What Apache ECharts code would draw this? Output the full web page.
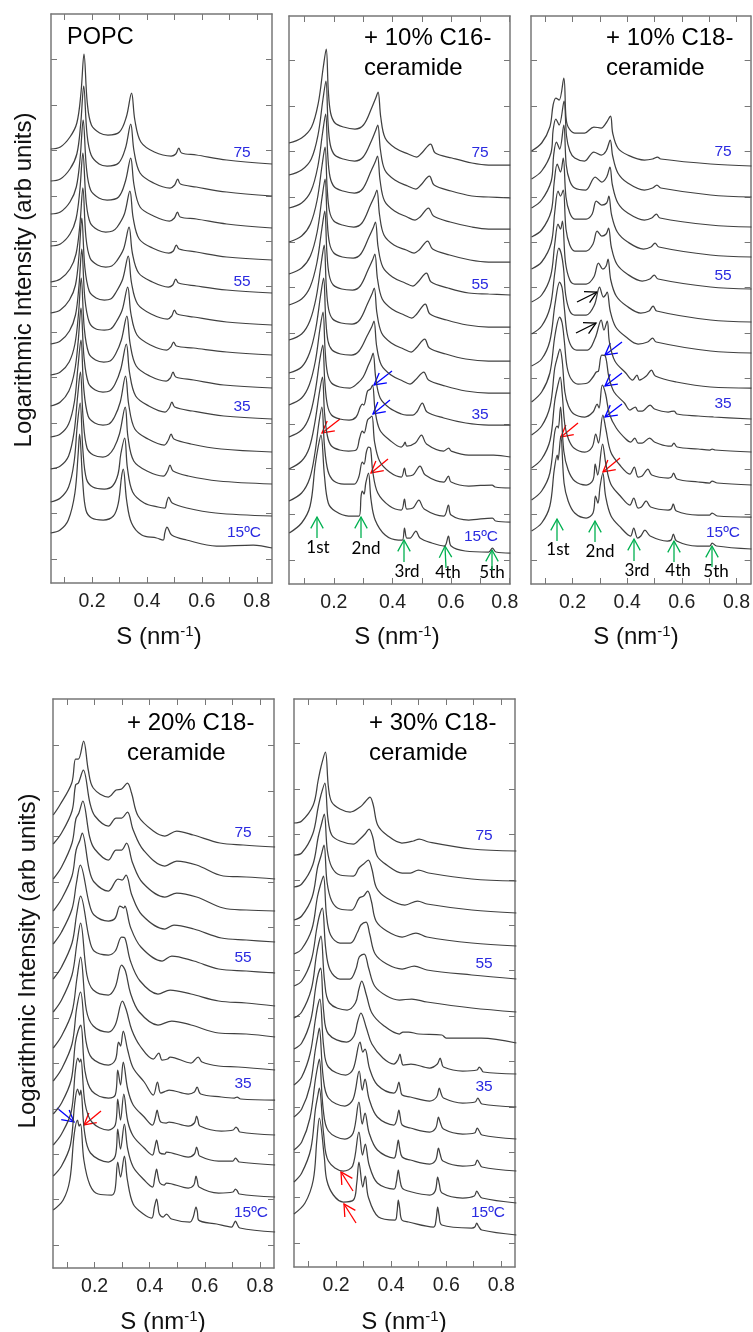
<!DOCTYPE html>
<html>
<head>
<meta charset="utf-8">
<script src="https://cdn.jsdelivr.net/npm/echarts@6/dist/echarts.min.js"></script>
<style>
  html, body { margin: 0; background: #fff; }
  #main { width: 753px; height: 1332px; }
</style>
</head>
<body>
<div id="main"></div>
<script>
// tick values shared by every panel
const xMinorTicks = [0.1, 0.2, 0.3, 0.4, 0.5, 0.6, 0.7, 0.8]
const xLabels = [0.2, 0.4, 0.6, 0.8]
const yTicks = [0, 45.4, 90.8, 136.2, 181.6, 227, 272.4, 317.8, 363.2, 408.6, 454, 499.4]

// temperatures of the stacked curves, top to bottom
const temps = [75, 70, 65, 60, 55, 50, 45, 40, 35, 30, 25, 20, 15]

// vertical stacking offset of each curve, one list per panel
const popcOffset = [395, 363, 331, 299, 266, 234, 204, 171, 140, 107, 75, 43, 11]
const c16Offset = [395, 362, 331, 298, 265, 233, 199, 167, 135, 103, 72, 38, 7]
const c18Offset = [394, 363, 333, 303, 271, 238, 207, 172, 141, 108, 75, 43, 11]
const c18x20Offset = [398, 366, 334, 303, 272, 239, 208, 175, 145, 110, 80, 48, 13]
const c18x30Offset = [392, 362, 330, 297, 264, 231, 200, 169, 136, 104, 72, 40, 8]

// POPC: [S, log intensity above the curve's own high-S end]
const popc75 = [[.05,15],[.085,17],[.12,27],[.145,41],[.16,71],[.171,110],[.183,61],[.198,39],[.228,31],[.258,29],[.30,32],[.325,47],[.344,71],[.356,44],[.378,22],[.427,12],[.488,8],[.505,10],[.516,16],[.526,11],[.58,9],[.69,4],[.855,0]]
const popc70 = [[.05,15],[.085,17],[.12,27],[.145,42],[.159,72],[.170,110],[.182,62],[.197,41],[.226,32],[.255,30],[.297,33],[.322,48],[.341,72],[.353,45],[.375,23],[.424,13],[.484,8],[.501,11],[.512,17],[.522,12],[.58,9],[.69,4],[.855,0]]
const popc65 = [[.05,14],[.085,16],[.12,26],[.143,41],[.157,70],[.168,108],[.18,60],[.195,38],[.225,30],[.255,28],[.297,31],[.322,47],[.341,70],[.353,43],[.375,21],[.424,12],[.482,7],[.5,10],[.511,16],[.521,11],[.58,9],[.69,4],[.855,0]]
const popc60 = [[.05,14],[.085,16],[.12,26],[.142,41],[.156,70],[.167,107],[.179,58],[.194,37],[.222,30],[.25,28],[.275,29],[.292,33],[.318,46],[.338,69],[.35,42],[.372,21],[.42,12],[.48,7],[.496,9],[.507,15],[.517,11],[.58,8],[.69,3],[.855,0]]
const popc55 = [[.05,11],[.085,14],[.12,24],[.142,39],[.156,68],[.167,105],[.178,56],[.193,35],[.22,28],[.25,26],[.272,27],[.29,32],[.315,44],[.335,66],[.347,40],[.37,20],[.42,11],[.478,6],[.494,8],[.505,14],[.515,10],[.58,7],[.69,3],[.855,0]]
const popc50 = [[.05,12],[.085,15],[.118,25],[.14,40],[.153,70],[.163,107],[.174,58],[.19,34],[.215,27],[.245,25],[.268,26],[.288,33],[.312,46],[.332,69],[.344,42],[.366,21],[.415,11],[.475,6],[.49,9],[.5,15],[.51,11],[.57,8],[.69,3],[.855,0]]
const popc45 = [[.05,11],[.085,14],[.118,24],[.14,40],[.153,70],[.163,106],[.174,57],[.19,33],[.215,26],[.245,25],[.268,26],[.288,33],[.31,45],[.33,68],[.342,41],[.364,20],[.413,10],[.472,5],[.487,8],[.497,13],[.507,9],[.57,7],[.69,3],[.855,0]]
const popc40 = [[.05,13],[.085,16],[.117,26],[.138,44],[.151,74],[.161,110],[.172,60],[.188,35],[.213,28],[.243,26],[.266,27],[.286,34],[.307,48],[.327,72],[.339,44],[.361,22],[.41,12],[.47,7],[.485,10],[.495,16],[.505,11],[.57,8],[.68,3],[.855,0]]
const popc35 = [[.05,13],[.085,17],[.116,28],[.137,48],[.15,78],[.16,111],[.171,62],[.187,36],[.212,29],[.24,27],[.264,28],[.284,35],[.305,50],[.325,75],[.337,46],[.359,23],[.407,13],[.466,7],[.481,11],[.491,17],[.501,12],[.565,8],[.68,3],[.855,0]]
const popc30 = [[.05,15],[.085,18],[.115,28],[.136,50],[.149,85],[.16,112],[.17,64],[.186,36],[.21,29],[.24,27],[.262,28],[.282,35],[.303,50],[.322,76],[.334,47],[.356,23],[.404,13],[.463,7],[.478,12],[.488,18],[.498,13],[.56,8],[.67,3],[.855,0]]
const popc25 = [[.05,15],[.085,18],[.115,28],[.135,52],[.148,88],[.158,112],[.168,65],[.182,36],[.205,29],[.24,27],[.26,29],[.28,36],[.30,50],[.321,77],[.331,47],[.352,23],[.4,13],[.46,8],[.475,13],[.484,19],[.495,13],[.55,8],[.66,3],[.855,0]]
const popc20 = [[.05,14],[.085,18],[.115,29],[.135,54],[.147,92],[.157,113],[.167,66],[.18,37],[.203,29],[.245,27],[.275,30],[.295,42],[.305,62],[.319,78],[.329,48],[.348,24],[.39,13],[.44,9],[.465,8],[.472,14],[.479,19],[.492,13],[.545,8],[.65,3],[.855,0]]
const popc15 = [[.05,15],[.084,18],[.114,28],[.138,55],[.15,95],[.155,114],[.166,68],[.178,38],[.199,30],[.241,28],[.278,32],[.296,45],[.308,72],[.314,79],[.326,48],[.344,25],[.381,13],[.435,10],[.459,8],[.465,15],[.473,21],[.49,13],[.544,8],[.653,2],[.787,3],[.855,0]]

// + 10% C16-ceramide
const c1675 = [[.047,22],[.09,27],[.124,38],[.147,62],[.164,98],[.174,116],[.181,75],[.189,52],[.204,42],[.233,38],[.272,36],[.301,40],[.329,57],[.343,67],[.351,73],[.36,48],[.375,27],[.409,17],[.454,11],[.483,8],[.50,12],[.53,21],[.546,12],[.603,7],[.671,2],[.728,0],[.802,0]]
const c1670 = [[.047,23],[.09,28],[.123,39],[.146,63],[.163,99],[.173,117],[.18,76],[.188,53],[.203,43],[.232,39],[.271,37],[.3,41],[.328,57],[.342,67],[.35,73],[.359,48],[.374,28],[.408,18],[.452,12],[.48,9],[.497,13],[.526,22],[.542,13],[.6,7],[.671,2],[.728,1],[.802,0]]
const c1665 = [[.047,21],[.09,26],[.122,38],[.145,62],[.162,97],[.172,115],[.179,75],[.187,52],[.202,42],[.231,38],[.27,36],[.298,40],[.327,58],[.341,67],[.349,73],[.358,48],[.373,28],[.407,18],[.45,12],[.477,9],[.494,12],[.523,21],[.54,13],[.597,7],[.671,2],[.728,0],[.802,0]]
const c1660 = [[.047,20],[.09,26],[.12,38],[.143,62],[.16,97],[.17,115],[.177,75],[.185,51],[.2,41],[.229,37],[.268,35],[.296,39],[.325,57],[.339,66],[.347,72],[.356,47],[.371,27],[.405,17],[.447,12],[.474,9],[.491,12],[.52,21],[.537,13],[.595,7],[.665,2],[.728,0],[.802,0]]
const c1655 = [[.047,21],[.09,27],[.12,39],[.143,63],[.16,98],[.17,116],[.177,76],[.185,52],[.2,42],[.229,38],[.266,37],[.292,41],[.32,58],[.334,67],[.342,73],[.351,48],[.367,28],[.4,18],[.443,12],[.47,9],[.487,13],[.516,22],[.532,13],[.59,7],[.66,2],[.728,1],[.802,0]]
const c1650 = [[.047,22],[.09,28],[.119,40],[.142,64],[.159,98],[.169,116],[.176,76],[.184,52],[.198,42],[.227,38],[.264,37],[.29,41],[.318,58],[.332,67],[.34,73],[.349,48],[.365,28],[.398,18],[.44,12],[.466,9],[.483,13],[.512,23],[.528,13],[.585,7],[.655,2],[.728,0],[.802,0]]
const c1645 = [[.047,21],[.09,27],[.118,40],[.14,64],[.157,98],[.167,116],[.174,76],[.182,52],[.196,42],[.225,38],[.262,37],[.288,41],[.316,58],[.33,67],[.338,73],[.347,48],[.363,28],[.396,18],[.438,12],[.464,9],[.481,13],[.51,22],[.526,13],[.582,7],[.65,2],[.728,0],[.802,0]]
const c1640 = [[.047,20],[.09,26],[.117,40],[.138,64],[.155,98],[.165,115],[.172,76],[.18,52],[.194,43],[.223,39],[.26,38],[.286,42],[.315,58],[.329,66],[.337,72],[.346,47],[.362,28],[.395,18],[.435,12],[.46,9],[.478,13],[.507,21],[.523,13],[.58,7],[.65,2],[.728,0],[.802,0]]
const c1635 = [[.047,20],[.09,27],[.116,40],[.137,64],[.153,97],[.163,113],[.17,76],[.178,52],[.192,42],[.22,38],[.255,37],[.282,42],[.3,48],[.318,60],[.327,66],[.334,72],[.343,47],[.358,27],[.39,17],[.43,11],[.449,10],[.47,10],[.483,13],[.502,22],[.518,13],[.575,7],[.65,2],[.728,0],[.802,0]]
const c1630 = [[.047,20],[.09,27],[.116,40],[.136,65],[.152,97],[.162,112],[.169,76],[.178,52],[.192,42],[.22,38],[.252,37],[.276,40],[.29,50],[.297,53],[.302,52],[.315,66],[.325,68],[.332,72],[.341,46],[.357,27],[.39,17],[.43,10],[.438,12],[.443,15],[.449,11],[.478,14],[.499,22],[.516,13],[.575,6],[.592,9],[.6,6],[.66,2],[.745,2],[.802,0]]
const c1625 = [[.047,19],[.09,27],[.116,40],[.135,65],[.151,96],[.161,111],[.168,76],[.178,52],[.192,42],[.22,38],[.25,37],[.276,38],[.288,50],[.297,57],[.303,55],[.315,68],[.322,70],[.33,72],[.339,46],[.356,27],[.39,16],[.43,11],[.441,20],[.449,12],[.47,13],[.494,22],[.512,13],[.575,6],[.591,12],[.6,6],[.66,2],[.74,3],[.75,1],[.802,0]]
const c1620 = [[.047,21],[.09,29],[.118,44],[.136,70],[.149,99],[.159,115],[.168,76],[.18,51],[.2,41],[.235,38],[.27,38],[.285,45],[.297,60],[.303,58],[.311,70],[.318,75],[.325,74],[.333,50],[.35,29],[.39,16],[.43,12],[.441,23],[.449,13],[.47,14],[.49,22],[.508,13],[.575,6],[.591,17],[.6,7],[.66,2],[.741,4],[.752,1],[.802,0]]
const c1615 = [[.048,20],[.09,30],[.119,47],[.136,87],[.147,107],[.156,118],[.168,77],[.181,50],[.204,42],[.25,37],[.286,37],[.293,57],[.297,62],[.303,59],[.309,70],[.318,80],[.327,53],[.341,33],[.375,18],[.42,13],[.434,13],[.441,25],[.449,15],[.46,15],[.48,22],[.494,15],[.534,10],[.577,7],[.591,17],[.6,7],[.648,2],[.728,1],[.741,5],[.753,1],[.802,0]]

// + 10% C18-ceramide
const c1875 = [[.05,15],[.087,23],[.117,39],[.129,61],[.139,68],[.151,66],[.168,88],[.176,49],[.184,39],[.208,33],[.244,33],[.278,39],[.305,38],[.323,43],[.339,50],[.347,33],[.366,18],[.402,11],[.463,6],[.493,7],[.511,9],[.523,7],[.705,2],[.855,0]]
const c1870 = [[.05,18],[.087,26],[.121,44],[.129,67],[.139,78],[.151,72],[.169,96],[.178,61],[.19,46],[.208,39],[.244,36],[.278,45],[.305,42],[.323,46],[.338,57],[.347,41],[.366,24],[.402,14],[.463,7],[.493,9],[.509,12],[.523,9],[.705,2],[.855,0]]
const c1865 = [[.05,19],[.087,27],[.122,46],[.131,72],[.141,85],[.153,78],[.168,102],[.177,62],[.19,46],[.208,39],[.248,37],[.283,50],[.307,45],[.325,50],[.337,60],[.346,42],[.366,24],[.402,14],[.463,7],[.49,9],[.507,13],[.52,9],[.705,2],[.855,0]]
const c1860 = [[.05,20],[.087,27],[.122,46],[.133,75],[.144,93],[.156,85],[.166,99],[.176,60],[.19,44],[.208,38],[.25,38],[.272,43],[.287,56],[.307,52],[.325,54],[.333,61],[.343,42],[.364,25],[.402,15],[.46,8],[.487,10],[.502,14],[.516,10],[.705,2],[.855,0]]
const c1855 = [[.05,20],[.087,27],[.122,46],[.135,77],[.147,98],[.156,93],[.166,99],[.176,60],[.19,44],[.208,38],[.25,38],[.275,45],[.29,58],[.307,53],[.323,55],[.332,61],[.342,42],[.362,25],[.4,15],[.455,8],[.483,10],[.499,14],[.513,10],[.705,2],[.855,0]]
const c1850 = [[.05,20],[.087,27],[.12,46],[.135,78],[.147,98],[.156,93],[.163,101],[.174,60],[.19,42],[.208,38],[.25,38],[.278,45],[.295,59],[.311,53],[.323,56],[.33,63],[.34,42],[.36,26],[.398,16],[.45,9],[.48,11],[.495,16],[.508,11],[.705,2],[.855,0]]
const c1845 = [[.05,19],[.087,27],[.118,46],[.136,82],[.15,105],[.159,99],[.167,85],[.175,58],[.19,42],[.208,38],[.25,38],[.28,48],[.299,66],[.313,56],[.321,58],[.327,61],[.338,42],[.358,26],[.396,16],[.44,9],[.475,11],[.493,15],[.506,11],[.705,2],[.855,0]]
const c1840 = [[.05,22],[.087,29],[.117,47],[.136,84],[.153,106],[.162,100],[.17,80],[.18,55],[.195,42],[.215,38],[.255,38],[.283,50],[.305,68],[.315,58],[.327,67],[.335,46],[.355,27],[.395,15],[.42,8],[.436,13],[.445,8],[.47,12],[.489,18],[.503,12],[.58,6],[.705,1],[.855,0]]
const c1835 = [[.05,17],[.087,27],[.117,46],[.136,84],[.153,102],[.162,96],[.17,78],[.18,52],[.195,40],[.22,35],[.255,36],[.275,42],[.287,47],[.295,48],[.307,64],[.32,63],[.333,42],[.352,27],[.39,16],[.41,9],[.43,12],[.44,8],[.455,8],[.484,14],[.5,10],[.55,7],[.572,8],[.582,5],[.66,3],[.717,2],[.855,0]]
const c1830 = [[.05,17],[.087,26],[.118,46],[.135,84],[.145,95],[.154,103],[.162,92],[.172,60],[.185,46],[.205,38],[.245,35],[.275,40],[.29,48],[.297,44],[.309,67],[.321,58],[.335,38],[.36,24],[.395,13],[.413,10],[.428,14],[.44,9],[.455,9],[.482,14],[.5,10],[.55,6],[.562,6],[.571,9],[.583,5],[.66,3],[.703,2],[.711,3],[.722,2],[.855,0]]
const c1825 = [[.05,17],[.087,26],[.118,45],[.135,84],[.145,98],[.155,108],[.162,92],[.172,60],[.185,46],[.205,37],[.245,33],[.272,38],[.285,51],[.295,42],[.311,70],[.322,56],[.34,33],[.37,21],[.41,11],[.426,18],[.44,8],[.455,9],[.476,16],[.49,10],[.55,7],[.562,8],[.57,12],[.582,6],[.66,3],[.702,2],[.711,4],[.73,2],[.855,0]]
const c1820 = [[.05,17],[.087,26],[.117,44],[.135,85],[.144,91],[.148,89],[.156,110],[.168,66],[.184,47],[.208,36],[.25,32],[.275,37],[.283,53],[.292,42],[.31,73],[.322,53],[.34,33],[.375,21],[.41,12],[.424,19],[.44,9],[.452,10],[.47,16],[.486,10],[.55,7],[.561,8],[.569,13],[.58,6],[.66,2],[.702,2],[.711,4],[.73,1],[.855,0]]
const c1815 = [[.05,18],[.087,26],[.117,43],[.133,79],[.144,94],[.147,89],[.157,113],[.169,66],[.184,48],[.208,36],[.25,31],[.275,36],[.284,53],[.293,46],[.301,63],[.311,76],[.321,53],[.341,33],[.378,21],[.412,13],[.424,21],[.438,11],[.45,13],[.465,19],[.484,13],[.547,8],[.561,9],[.569,15],[.581,8],[.657,3],[.702,3],[.711,6],[.727,3],[.855,0]]

// + 20% C18-ceramide
const c2075 = [[.05,32],[.074,42],[.117,64],[.131,88],[.141,88],[.16,106],[.177,77],[.195,59],[.25,50],[.278,57],[.298,58],[.319,64],[.334,54],[.358,31],[.413,16],[.455,11],[.498,16],[.558,12],[.655,4],[.739,2],[.855,0]]
const c2070 = [[.05,35],[.08,46],[.118,68],[.131,94],[.141,96],[.159,109],[.183,76],[.201,63],[.25,53],[.278,61],[.298,61],[.319,67],[.34,49],[.377,29],[.455,13],[.498,18],[.57,14],[.667,3],[.75,2],[.855,0]]
const c2065 = [[.05,32],[.08,44],[.118,68],[.132,92],[.143,98],[.157,110],[.182,74],[.2,62],[.25,51],[.278,61],[.298,61],[.316,68],[.338,48],[.375,28],[.455,14],[.498,18],[.57,14],[.667,3],[.75,1],[.855,0]]
const c2060 = [[.05,31],[.08,43],[.118,66],[.133,92],[.147,102],[.155,109],[.18,73],[.198,60],[.25,51],[.285,63],[.3,62],[.314,67],[.335,47],[.372,27],[.455,13],[.488,17],[.56,13],[.66,4],[.75,2],[.855,0]]
const c2055 = [[.05,29],[.08,41],[.118,64],[.134,90],[.148,108],[.18,70],[.198,58],[.25,52],[.275,55],[.292,67],[.306,65],[.31,67],[.33,46],[.368,26],[.445,12],[.48,17],[.56,12],[.65,4],[.75,2],[.855,0]]
const c2050 = [[.05,27],[.08,39],[.118,63],[.135,92],[.149,110],[.18,68],[.198,55],[.25,51],[.275,55],[.298,69],[.31,68],[.33,45],[.365,25],[.43,12],[.474,16],[.55,12],[.65,5],[.75,3],[.855,0]]
const c2045 = [[.05,25],[.08,37],[.118,62],[.136,94],[.149,114],[.172,62],[.195,47],[.25,42],[.275,50],[.298,72],[.312,66],[.33,44],[.362,25],[.43,12],[.48,16],[.55,12],[.65,4],[.75,3],[.855,0]]
const c2040 = [[.05,22],[.08,34],[.118,58],[.136,92],[.149,113],[.17,60],[.195,44],[.25,38],[.275,45],[.301,69],[.315,60],[.335,40],[.365,24],[.413,11],[.433,17],[.445,10],[.465,11],[.474,13],[.55,7],[.576,13],[.59,8],[.65,4],[.721,3],[.855,0]]
const c2035 = [[.05,19],[.08,31],[.118,56],[.135,92],[.149,108],[.168,60],[.19,42],[.25,35],[.275,40],[.284,55],[.287,58],[.294,54],[.304,69],[.32,50],[.34,32],[.38,18],[.413,5],[.428,18],[.44,7],[.46,9],[.47,10],[.54,6],[.562,8],[.572,13],[.585,6],[.66,3],[.707,2],[.717,3],[.73,1],[.855,0]]
const c2030 = [[.05,21],[.08,32],[.115,55],[.13,92],[.14,104],[.15,110],[.165,64],[.19,44],[.25,37],[.275,40],[.284,65],[.294,50],[.304,73],[.32,46],[.34,30],[.38,18],[.41,10],[.42,17],[.427,25],[.432,19],[.44,13],[.46,12],[.47,13],[.54,9],[.562,12],[.57,19],[.575,15],[.582,9],[.66,4],[.703,5],[.713,8],[.72,6],[.727,3],[.855,0]]
const c2025 = [[.05,20],[.08,31],[.115,53],[.13,94],[.139,107],[.146,103],[.15,106],[.165,62],[.19,43],[.25,35],[.275,40],[.284,66],[.294,45],[.306,71],[.32,44],[.34,29],[.38,17],[.41,10],[.418,17],[.425,25],[.43,19],[.437,12],[.455,11],[.461,13],[.54,8],[.562,11],[.57,18],[.575,14],[.581,9],[.65,4],[.702,4],[.711,7],[.718,5],[.725,3],[.855,0]]
const c2020 = [[.05,21],[.08,31],[.112,52],[.128,94],[.138,108],[.146,102],[.15,107],[.163,66],[.185,44],[.25,35],[.275,41],[.284,68],[.294,48],[.308,73],[.32,48],[.34,30],[.38,17],[.41,10],[.418,19],[.425,28],[.43,21],[.437,14],[.452,12],[.461,14],[.54,9],[.56,12],[.568,21],[.573,16],[.579,10],[.65,4],[.702,5],[.711,8],[.718,6],[.725,3],[.855,0]]
const c2015 = [[.05,22],[.086,32],[.11,52],[.126,98],[.138,112],[.144,106],[.149,108],[.161,72],[.183,47],[.213,38],[.262,37],[.274,42],[.284,70],[.294,55],[.308,76],[.319,52],[.34,28],[.377,18],[.407,14],[.417,25],[.425,33],[.43,26],[.435,18],[.449,15],[.461,18],[.479,13],[.546,10],[.558,15],[.568,25],[.573,20],[.577,12],[.643,8],[.697,5],[.705,8],[.711,11],[.717,8],[.727,4],[.855,0]]

// + 30% C18-ceramide
const c3075 = [[.047,28],[.075,30],[.117,46],[.135,71],[.145,84],[.161,99],[.172,64],[.184,49],[.214,42],[.251,39],[.287,44],[.305,49],[.323,54],[.335,46],[.351,26],[.384,16],[.439,8],[.481,10],[.502,12],[.536,9],[.693,2],[.855,0]]
const c3070 = [[.047,26],[.075,28],[.115,47],[.135,74],[.145,86],[.159,98],[.17,63],[.184,46],[.214,40],[.263,37],[.287,42],[.305,47],[.32,52],[.333,44],[.349,25],[.384,16],[.44,8],[.47,8],[.499,11],[.536,8],[.693,2],[.855,0]]
const c3065 = [[.047,26],[.075,29],[.115,48],[.135,76],[.146,88],[.157,99],[.168,63],[.184,46],[.214,38],[.263,37],[.283,45],[.3,49],[.317,53],[.33,44],[.347,25],[.384,15],[.45,8],[.496,12],[.53,9],[.693,3],[.855,0]]
const c3060 = [[.047,26],[.075,30],[.113,49],[.133,79],[.145,90],[.156,101],[.167,64],[.184,45],[.214,37],[.256,36],[.284,48],[.3,50],[.315,55],[.328,45],[.345,25],[.384,15],[.44,9],[.49,13],[.53,9],[.693,3],[.855,0]]
const c3055 = [[.047,25],[.075,30],[.112,50],[.132,82],[.143,94],[.154,103],[.165,64],[.18,44],[.214,36],[.252,36],[.278,47],[.29,54],[.309,57],[.322,45],[.342,25],[.384,15],[.44,10],[.484,13],[.53,9],[.693,4],[.855,0]]
const c3050 = [[.047,26],[.075,31],[.11,52],[.13,84],[.14,97],[.15,104],[.162,64],[.178,42],[.214,33],[.25,33],[.272,43],[.284,55],[.302,58],[.318,44],[.34,26],[.384,16],[.43,12],[.475,13],[.53,10],[.693,4],[.855,0]]
const c3045 = [[.047,25],[.075,31],[.11,54],[.128,87],[.137,100],[.145,107],[.158,62],[.176,40],[.24,33],[.27,40],[.283,54],[.293,62],[.31,48],[.33,30],[.37,18],[.43,9],[.443,11],[.463,11],[.5,9],[.584,8],[.6,5],[.727,5],[.855,0]]
const c3040 = [[.047,25],[.075,31],[.108,54],[.126,87],[.135,100],[.144,106],[.155,62],[.172,40],[.238,32],[.265,38],[.278,52],[.29,61],[.31,46],[.33,30],[.37,16],[.41,10],[.424,14],[.432,20],[.437,14],[.444,9],[.472,10],[.54,6],[.568,10],[.578,16],[.583,12],[.59,7],[.66,3],[.712,4],[.72,7],[.727,5],[.735,2],[.855,0]]
const c3035 = [[.047,22],[.075,30],[.106,54],[.125,88],[.134,102],[.141,108],[.155,60],[.172,40],[.235,32],[.262,38],[.287,65],[.297,55],[.305,58],[.322,38],[.35,22],[.41,14],[.42,17],[.428,25],[.433,19],[.44,12],[.47,10],[.54,6],[.565,10],[.575,19],[.581,14],[.59,9],[.66,4],[.705,5],[.715,9],[.722,6],[.73,3],[.855,0]]
const c3030 = [[.047,22],[.075,30],[.105,53],[.125,90],[.134,104],[.139,111],[.153,62],[.172,41],[.232,33],[.262,40],[.284,68],[.295,49],[.305,60],[.32,40],[.35,22],[.41,14],[.42,19],[.428,29],[.433,22],[.44,14],[.47,11],[.54,7],[.562,11],[.572,22],[.578,17],[.59,10],[.66,5],[.703,6],[.713,11],[.72,8],[.73,4],[.855,0]]
const c3025 = [[.047,21],[.075,29],[.105,53],[.125,92],[.134,106],[.139,112],[.153,62],[.172,40],[.232,32],[.262,38],[.283,69],[.295,47],[.305,58],[.32,38],[.35,21],[.41,13],[.419,20],[.426,31],[.431,23],[.44,14],[.47,11],[.54,7],[.562,11],[.572,23],[.578,17],[.588,10],[.66,5],[.703,6],[.713,11],[.72,8],[.73,4],[.855,0]]
const c3020 = [[.047,21],[.075,30],[.108,54],[.125,94],[.134,108],[.139,115],[.155,68],[.172,42],[.226,32],[.26,37],[.283,71],[.296,48],[.306,59],[.32,38],[.35,20],[.41,14],[.419,21],[.426,33],[.431,25],[.44,15],[.461,12],[.54,8],[.56,12],[.569,26],[.575,19],[.585,10],[.66,5],[.702,7],[.711,12],[.718,9],[.73,5],[.855,0]]
const c3015 = [[.047,21],[.087,32],[.117,55],[.13,95],[.139,117],[.157,78],[.166,55],[.19,40],[.226,33],[.263,35],[.275,52],[.283,73],[.297,48],[.306,59],[.317,38],[.354,18],[.414,15],[.421,22],[.426,35],[.431,27],[.439,15],[.463,13],[.554,8],[.563,15],[.569,28],[.574,20],[.584,10],[.693,7],[.704,8],[.711,12],[.717,9],[.729,5],[.855,0]]

const popcCurves = [popc75, popc70, popc65, popc60, popc55, popc50, popc45, popc40, popc35, popc30, popc25, popc20, popc15]
const c16Curves = [c1675, c1670, c1665, c1660, c1655, c1650, c1645, c1640, c1635, c1630, c1625, c1620, c1615]
const c18Curves = [c1875, c1870, c1865, c1860, c1855, c1850, c1845, c1840, c1835, c1830, c1825, c1820, c1815]
const c20Curves = [c2075, c2070, c2065, c2060, c2055, c2050, c2045, c2040, c2035, c2030, c2025, c2020, c2015]
const c30Curves = [c3075, c3070, c3065, c3060, c3055, c3050, c3045, c3040, c3035, c3030, c3025, c3020, c3015]

const panels = [
  { left: 51, top: 14, right: 272, bottom: 583, xMin: .051, xMax: .855, yMin: -24, yMax: 545, curves: popcCurves, offset: popcOffset, xTitle: [159, 637] },
  { left: 289, top: 16, right: 510, bottom: 584, xMin: .047, xMax: .801, yMin: -24, yMax: 544, curves: c16Curves, offset: c16Offset, xTitle: [397, 637], nudgeLast: true },
  { left: 531, top: 16, right: 752, bottom: 584, xMin: .048, xMax: .852, yMin: -24, yMax: 544, curves: c18Curves, offset: c18Offset, xTitle: [636, 637] },
  { left: 53, top: 699, right: 274, bottom: 1268, xMin: .049, xMax: .851, yMin: -23, yMax: 546, curves: c20Curves, offset: c18x20Offset, xTitle: [163, 1322] },
  { left: 294, top: 699, right: 515, bottom: 1267, xMin: .047, xMax: .85, yMin: -24, yMax: 544, curves: c30Curves, offset: c18x30Offset, xTitle: [404, 1322] }
]

const AXIS_COLOR = '#777'
const BLUE = '#2a2ae0'
const grid = []
const xAxis = []
const yAxis = []
const series = []

panels.forEach((p, i) => {
  grid.push({ left: p.left, top: p.top, width: p.right - p.left, height: p.bottom - p.top })
  ;['bottom', 'top'].forEach(pos => {
    xAxis.push({
      type: 'value',
      gridIndex: i,
      position: pos,
      min: p.xMin,
      max: p.xMax,
      splitLine: { show: false },
      axisLine: { show: true, onZero: false, lineStyle: { color: AXIS_COLOR, width: 1.5 } },
      axisTick: { show: true, inside: true, length: 6, customValues: xMinorTicks, lineStyle: { color: AXIS_COLOR, width: 1 } },
      axisLabel: pos === 'bottom'
        ? {
            show: true,
            margin: 9,
            fontSize: 19.5,
            color: '#222',
            fontFamily: 'Liberation Sans',
            customValues: xLabels,
            // the last label sits a little left of its tick in the second panel
            formatter: v => (p.nudgeLast && v > 0.7 ? '{m|' + v.toFixed(1) + '}' : v.toFixed(1)),
            rich: { m: { fontSize: 19.5, color: '#222', fontFamily: 'Liberation Sans', padding: [0, 10, 0, 0] } }
          }
        : { show: false }
    })
  })
  ;['left', 'right'].forEach(pos => {
    yAxis.push({
      type: 'value',
      gridIndex: i,
      position: pos,
      min: p.yMin,
      max: p.yMax,
      splitLine: { show: false },
      axisLine: { show: true, onZero: false, lineStyle: { color: AXIS_COLOR, width: 1.5 } },
      axisTick: { show: true, inside: true, length: 6, customValues: yTicks, lineStyle: { color: AXIS_COLOR, width: 1 } },
      axisLabel: { show: false }
    })
  })
  p.curves.forEach((curve, k) => {
    series.push({
      type: 'line',
      name: temps[k] + ' C',
      xAxisIndex: i * 2,
      yAxisIndex: i * 2,
      data: curve.map(d => [d[0], d[1] + p.offset[k]]),
      symbol: 'none',
      smooth: 0.35,
      silent: true,
      lineStyle: { color: '#404040', width: 1.25 }
    })
  })
})

const graphic = []

function text(x, y, str, size, color, family, align) {
  graphic.push({
    type: 'text',
    x: x,
    y: y,
    silent: true,
    style: {
      text: str,
      fill: color,
      fontSize: size,
      fontFamily: family || 'Liberation Sans',
      align: align || 'center',
      verticalAlign: 'middle'
    }
  })
}

// open arrow head from tip back towards the tail
function arrow(tipX, tipY, tailX, tailY, color) {
  const ang = Math.atan2(tailY - tipY, tailX - tipX)
  const head = 13
  const a1 = ang + 0.5
  const a2 = ang - 0.5
  const line = { stroke: color, lineWidth: 1.3, fill: null }
  graphic.push({ type: 'polyline', silent: true, shape: { points: [[tailX, tailY], [tipX, tipY]] }, style: line })
  graphic.push({
    type: 'polyline',
    silent: true,
    shape: { points: [[tipX + head * Math.cos(a1), tipY + head * Math.sin(a1)], [tipX, tipY], [tipX + head * Math.cos(a2), tipY + head * Math.sin(a2)]] },
    style: line
  })
}

// panel titles
text(67, 38, 'POPC', 23.5, '#000', null, 'left')
text(364, 38, '+ 10% C16-', 24, '#000', null, 'left')
text(364, 68, 'ceramide', 24, '#000', null, 'left')
text(606, 38, '+ 10% C18-', 24, '#000', null, 'left')
text(606, 68, 'ceramide', 24, '#000', null, 'left')
text(127, 723, '+ 20% C18-', 24, '#000', null, 'left')
text(127, 753, 'ceramide', 24, '#000', null, 'left')
text(369, 723, '+ 30% C18-', 24, '#000', null, 'left')
text(369, 753, 'ceramide', 24, '#000', null, 'left')

// temperature labels
text(242, 153, '75', 15.5, BLUE)
text(242, 282, '55', 15.5, BLUE)
text(242, 407, '35', 15.5, BLUE)
text(244, 533, '15ºC', 15.5, BLUE)
text(480, 153, '75', 15.5, BLUE)
text(480, 285, '55', 15.5, BLUE)
text(480, 415, '35', 15.5, BLUE)
text(481, 537, '15ºC', 15.5, BLUE)
text(723, 152, '75', 15.5, BLUE)
text(723, 276, '55', 15.5, BLUE)
text(723, 404, '35', 15.5, BLUE)
text(723, 533, '15ºC', 15.5, BLUE)
text(243, 833, '75', 15.5, BLUE)
text(243, 958, '55', 15.5, BLUE)
text(243, 1084, '35', 15.5, BLUE)
text(251, 1213, '15ºC', 15.5, BLUE)
text(484, 836, '75', 15.5, BLUE)
text(484, 964, '55', 15.5, BLUE)
text(484, 1087, '35', 15.5, BLUE)
text(488, 1213, '15ºC', 15.5, BLUE)

// order labels
text(318, 548, '1st', 17, '#000', 'Lato')
text(366, 549, '2nd', 17, '#000', 'Lato')
text(407, 572, '3rd', 17, '#000', 'Lato')
text(448, 573, '4th', 17, '#000', 'Lato')
text(492, 573, '5th', 17, '#000', 'Lato')
text(558, 550, '1st', 17, '#000', 'Lato')
text(600, 552, '2nd', 17, '#000', 'Lato')
text(637, 571, '3rd', 17, '#000', 'Lato')
text(678, 571, '4th', 17, '#000', 'Lato')
text(716, 572, '5th', 17, '#000', 'Lato')

// rotated y titles
;[[24, 280], [28, 961]].forEach(pos => {
  graphic.push({
    type: 'text',
    x: pos[0],
    y: pos[1],
    rotation: Math.PI / 2,
    silent: true,
    style: { text: 'Logarithmic Intensity (arb units)', fill: '#111', fontSize: 24, fontFamily: 'Liberation Sans', align: 'center', verticalAlign: 'middle' }
  })
})

// x titles with the superscript
panels.forEach(p => {
  graphic.push({
    type: 'text',
    x: p.xTitle[0],
    y: p.xTitle[1],
    silent: true,
    style: {
      text: '{a|S (nm}{s|-1}{a|)}',
      align: 'center',
      verticalAlign: 'middle',
      rich: {
        a: { fontSize: 24, fontFamily: 'Liberation Sans', fill: '#111', lineHeight: 26 },
        s: { fontSize: 15, fontFamily: 'Liberation Sans', fill: '#111', verticalAlign: 'top', lineHeight: 26, padding: [0, 0, 8, 0] }
      }
    }
  })
})

const GREEN = '#00b050'
const RED = '#ff0000'
const ABLUE = '#0000ff'
// order arrows
arrow(317, 517, 317, 538, GREEN)
arrow(361, 517, 361, 538, GREEN)
arrow(404, 540, 404, 562, GREEN)
arrow(445, 546, 446, 568, GREEN)
arrow(492, 550, 492, 570, GREEN)
arrow(557, 519, 557, 541, GREEN)
arrow(595, 521, 595, 542, GREEN)
arrow(634, 539, 634, 561, GREEN)
arrow(674, 541, 674, 562, GREEN)
arrow(712, 546, 712, 567, GREEN)
// phase arrows
arrow(322, 433, 340, 419, RED)
arrow(371, 473, 388, 459, RED)
arrow(374, 385, 392, 371, ABLUE)
arrow(373, 414, 390, 400, ABLUE)
arrow(561, 437, 578, 423, RED)
arrow(603, 472, 620, 458, RED)
arrow(605, 355, 622, 342, ABLUE)
arrow(605, 386, 622, 373, ABLUE)
arrow(605, 417, 622, 404, ABLUE)
arrow(597, 292, 577, 302, '#000')
arrow(596, 323, 576, 333, '#000')
arrow(74, 1122, 57, 1108, ABLUE)
arrow(84, 1125, 101, 1111, RED)
arrow(341, 1172, 353, 1191, RED)
arrow(344, 1204, 356, 1223, RED)

const chart = echarts.init(document.getElementById('main'), null, { renderer: 'canvas' })
chart.setOption({
  animation: false,
  backgroundColor: '#fff',
  grid: grid,
  xAxis: xAxis,
  yAxis: yAxis,
  series: series,
  graphic: graphic
})
</script>
</body>
</html>
